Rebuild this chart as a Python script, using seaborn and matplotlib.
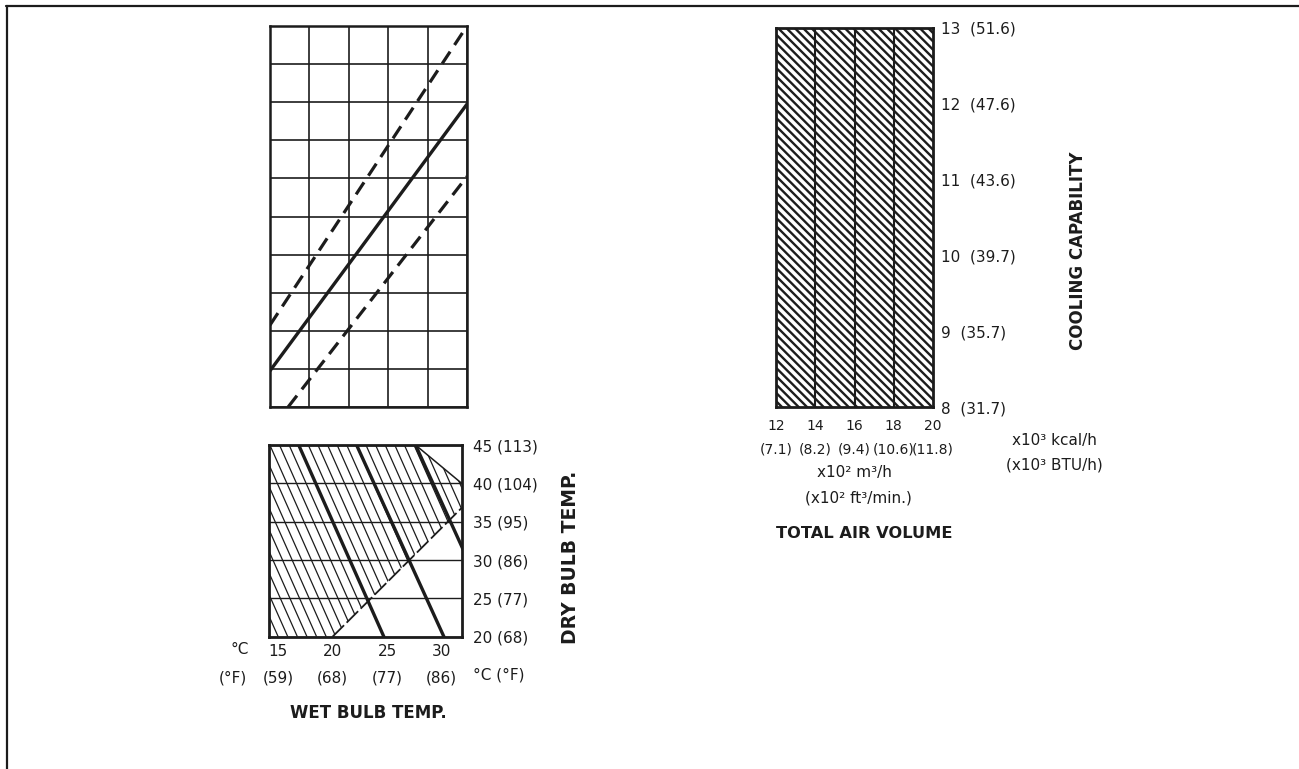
import numpy as np
import matplotlib
matplotlib.use("Agg")
import matplotlib.pyplot as plt
import seaborn as sns
from matplotlib.patches import Polygon
from matplotlib.lines import Line2D

# ---- datos ----
# panel superior izquierdo (rejilla 5 x 10)
grid_cols = [0, 1, 2, 3, 4, 5]
grid_rows = [0, 1, 2, 3, 4, 5, 6, 7, 8, 9, 10]
solid_x = [0, 5]
solid_y = [0.95, 7.95]
upper_dash_x = [0, 5]
upper_dash_y = [2.15, 10]
lower_dash_x = [0.46, 5]
lower_dash_y = [0, 6.05]

# panel inferior izquierdo: temperatura húmeda vs seca
wb_ticks = [15, 20, 25, 30]
wb_f = [59, 68, 77, 86]
db_ticks = [20, 25, 30, 35, 40, 45]
db_f = [68, 77, 86, 95, 104, 113]
thick_top_wb = [16.9, 22.2, 27.6]      # wb donde cada línea gruesa toca db = 45
thick_bottom_wb = [24.7, 30.2, 35.6]   # wb donde toca db = 20
limit_wb = [20, 31.83]
limit_db = [20, 36.8]
cut_wb = [27.6, 31.83]
cut_db = [45, 40]
hatch_step = 0.88

# panel derecho: capacidad frigorífica vs caudal de aire
air_ticks = [12, 14, 16, 18, 20]
air_ft = ["(7.1)", "(8.2)", "(9.4)", "(10.6)", "(11.8)"]
cap_ticks = [8, 9, 10, 11, 12, 13]
cap_btu = ["(31.7)", "(35.7)", "(39.7)", "(43.6)", "(47.6)", "(51.6)"]

ink = "#1c1c1c"
W, H = 1299, 769

sns.set_style("white")
plt.rcParams["font.family"] = ["DejaVu Sans"]
plt.rcParams["hatch.linewidth"] = 1.7

fig = plt.figure(figsize=(W / 100, H / 100), dpi=100)


def box(x0, y0, x1, y1):
    return [x0 / W, 1 - y1 / H, (x1 - x0) / W, (y1 - y0) / H]


def frame(ax, lw):
    for s in ax.spines.values():
        s.set_visible(True)
        s.set_color(ink)
        s.set_linewidth(lw)


# ---- panel superior izquierdo ----
ax1 = fig.add_axes(box(270, 26, 467, 407))
sns.lineplot(x=solid_x, y=solid_y, ax=ax1, color=ink, lw=2.4)
sns.lineplot(x=upper_dash_x, y=upper_dash_y, ax=ax1, color=ink, lw=2.3,
             linestyle=(0, (4.5, 2.5)))
sns.lineplot(x=lower_dash_x, y=lower_dash_y, ax=ax1, color=ink, lw=2.3,
             linestyle=(0, (4.5, 2.5)))
ax1.set_xlim(grid_cols[0], grid_cols[-1])
ax1.set_ylim(grid_rows[0], grid_rows[-1])
ax1.set_xticks(grid_cols)
ax1.set_yticks(grid_rows)
ax1.set_xticklabels([])
ax1.set_yticklabels([])
ax1.tick_params(length=0)
ax1.set_axisbelow(True)
ax1.grid(True, color=ink, lw=1.2)
frame(ax1, 1.8)

# ---- panel inferior izquierdo ----
ax2 = fig.add_axes(box(269, 445, 461.7, 636.7))
wb_lo, wb_hi = 14.18, 31.83
db_lo, db_hi = db_ticks[0], db_ticks[-1]

region_wb = [wb_lo, wb_lo, cut_wb[0], cut_wb[1], limit_wb[1], limit_wb[0]]
region_db = [db_lo, db_hi, cut_db[0], cut_db[1], limit_db[1], limit_db[0]]
clip = Polygon(np.column_stack([region_wb, region_db]), closed=True,
               facecolor="none", edgecolor="none")
ax2.add_patch(clip)

shift = thick_bottom_wb[0] - thick_top_wb[0]
for x0 in np.arange(thick_top_wb[0] - 24 * hatch_step, wb_hi + hatch_step, hatch_step):
    ln, = ax2.plot([x0, x0 + shift], [db_hi, db_lo], color=ink, lw=0.9)
    ln.set_clip_path(clip)

for xt, xb in zip(thick_top_wb, thick_bottom_wb):
    sns.lineplot(x=[xt, xb], y=[db_hi, db_lo], ax=ax2, color=ink, lw=2.4)
sns.lineplot(x=limit_wb, y=limit_db, ax=ax2, color=ink, lw=1.3,
             linestyle=(0, (9, 2)))
sns.lineplot(x=cut_wb, y=cut_db, ax=ax2, color=ink, lw=1.1)

ax2.set_xlim(wb_lo, wb_hi)
ax2.set_ylim(db_lo, db_hi)
ax2.set_xticks(wb_ticks)
ax2.set_xticklabels([f"{c}\n({f})" for c, f in zip(wb_ticks, wb_f)])
ax2.yaxis.tick_right()
ax2.set_yticks(db_ticks)
ax2.set_yticklabels([f"{c} ({f})" for c, f in zip(db_ticks, db_f)])
ax2.tick_params(axis="x", length=0, pad=5, labelsize=11, colors=ink)
ax2.tick_params(axis="y", length=0, pad=8, labelsize=11, colors=ink)
for lbl in ax2.get_xticklabels():
    lbl.set_linespacing(2.0)
ax2.set_axisbelow(False)
ax2.grid(True, axis="y", color=ink, lw=1.0)
ax2.grid(False, axis="x")
frame(ax2, 2.0)

# ---- panel derecho ----
ax3 = fig.add_axes(box(776, 28, 933, 407))
ax3.fill_between(air_ticks, cap_ticks[0], cap_ticks[-1], facecolor="white",
                 edgecolor=ink, hatch="\\\\\\\\", lw=0)
for xv in air_ticks[1:-1]:
    sns.lineplot(x=[xv, xv], y=[cap_ticks[0], cap_ticks[-1]], ax=ax3,
                 color=ink, lw=1.5, sort=False, estimator=None)
ax3.set_xlim(air_ticks[0], air_ticks[-1])
ax3.set_ylim(cap_ticks[0], cap_ticks[-1])
ax3.set_xticks(air_ticks)
ax3.set_xticklabels([f"{a}\n{b}" for a, b in zip(air_ticks, air_ft)])
ax3.yaxis.tick_right()
ax3.set_yticks(cap_ticks)
ax3.set_yticklabels([f"{c}  {b}" for c, b in zip(cap_ticks, cap_btu)])
ax3.tick_params(axis="x", length=0, pad=9, labelsize=10, colors=ink)
ax3.tick_params(axis="y", length=0, pad=6, labelsize=11, colors=ink)
for lbl in ax3.get_xticklabels():
    lbl.set_linespacing(1.8)
frame(ax3, 2.0)


# ---- textos sueltos ----
def put(x, y, s, **kw):
    kw.setdefault("color", ink)
    kw.setdefault("fontsize", 11)
    kw.setdefault("ha", "center")
    kw.setdefault("va", "center")
    fig.text(x / W, 1 - y / H, s, **kw)


put(240, 650, "°C")
put(233, 678, "(°F)")
put(473, 675, "°C (°F)", ha="left")
put(368, 713, "WET BULB TEMP.", fontsize=12, fontweight="bold")
put(570, 557, "DRY BULB TEMP.", fontsize=13.5, fontweight="bold", rotation=90)
put(854, 472, "x10² m³/h")
put(858, 498, "(x10² ft³/min.)")
put(864, 533, "TOTAL AIR VOLUME", fontsize=11.7, fontweight="bold")
put(1054, 440, "x10³ kcal/h")
put(1054, 465, "(x10³ BTU/h)")
put(1078, 251, "COOLING CAPABILITY", fontsize=12, fontweight="bold", rotation=90)

# marco de la lámina
fig.add_artist(Line2D([6 / W, 1], [1 - 5.5 / H] * 2, color=ink, lw=1.6))
fig.add_artist(Line2D([7 / W, 7 / W], [0, 1 - 5.5 / H], color=ink, lw=1.6))

fig.savefig("out.png", dpi=100, facecolor="white")
